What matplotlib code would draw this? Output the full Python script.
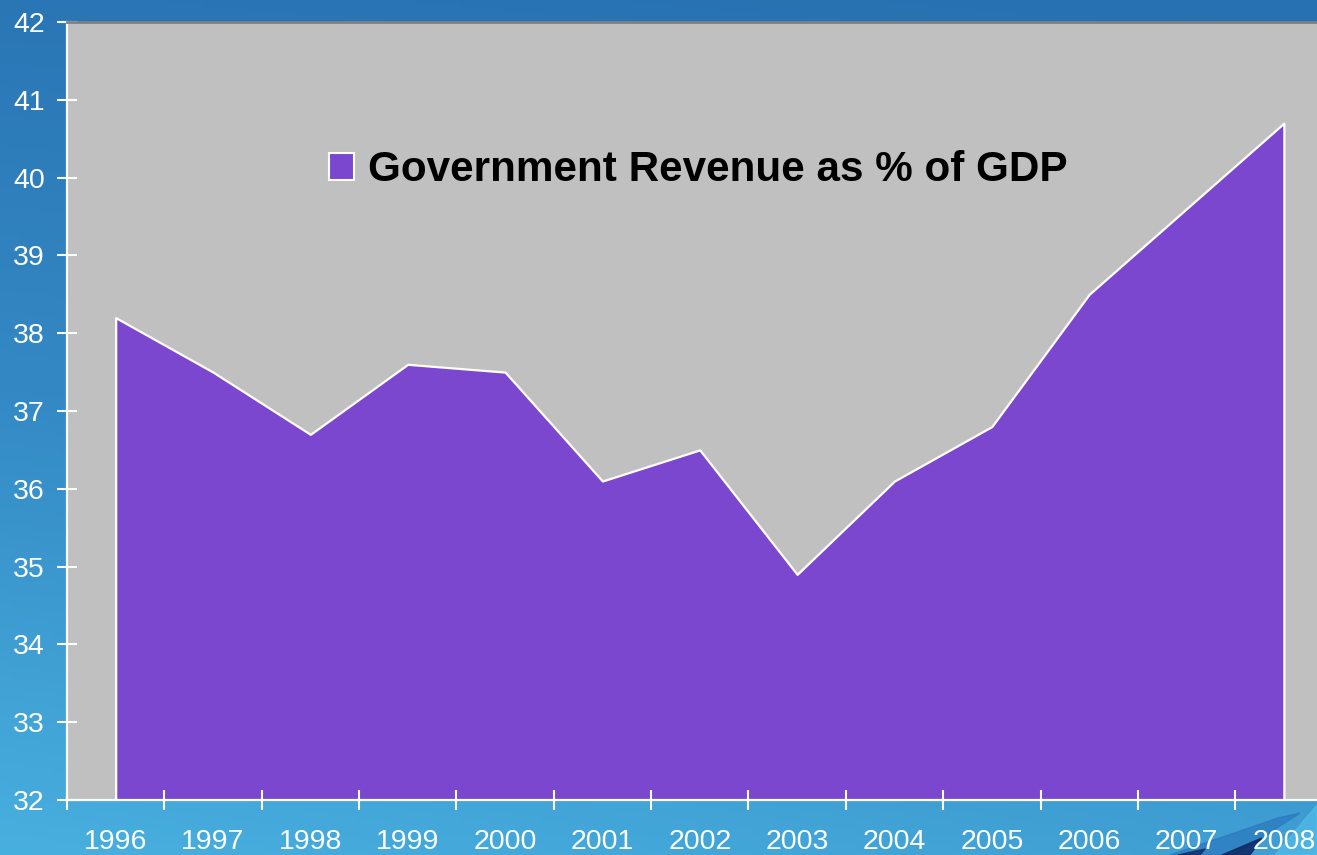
import matplotlib
matplotlib.use("Agg")
import matplotlib.pyplot as plt
import numpy as np
from matplotlib.patches import Patch, Polygon
from matplotlib.colors import LinearSegmentedColormap

years = ["1996", "1997", "1998", "1999", "2000", "2001", "2002",
         "2003", "2004", "2005", "2006", "2007", "2008"]
revenue = [38.2, 37.5, 36.7, 37.6, 37.5, 36.1, 36.5, 34.9, 36.1, 36.8, 38.5, 39.6, 40.7]
series_label = "Government Revenue as % of GDP"
y_ticks = [32, 33, 34, 35, 36, 37, 38, 39, 40, 41, 42]

purple = "#7B47CF"
plot_bg = "#C0C0C0"

plt.rcParams['font.family'] = ['Liberation Sans', 'DejaVu Sans']

W, H = 1317, 855
fig = plt.figure(figsize=(W / 100, H / 100), dpi=100)

# background gradient
bg = fig.add_axes([0, 0, 1, 1], zorder=-10)
bg.set_axis_off()
yy, xx = np.mgrid[0:1:200j, 0:1:200j]
t = 0.75 * yy + 0.2 * (1 - xx) * yy + 0.12 * (1 - xx) * (1 - yy)
cmap = LinearSegmentedColormap.from_list("bgblue", ["#2770B1", "#3489C4", "#4AB4E2"])
bg.imshow(t, cmap=cmap, extent=[0, 1, 0, 1], origin="upper", aspect="auto", vmin=0, vmax=1)
# decorative swoosh bottom-right
bg.add_patch(Polygon([[1170 / W, 0], [1278 / W, 37 / H], [1300 / W, 42 / H], [1235 / W, 0]],
                     closed=True, color="#2A78BE", alpha=0.7))
bg.add_patch(Polygon([[1222 / W, 0], [1262 / W, 17 / H], [1250 / W, 0]],
                     closed=True, color="#0E2C66", alpha=0.9))
bg.add_patch(Polygon([[1178 / W, 0], [1205 / W, 6 / H], [1200 / W, 0]],
                     closed=True, color="#0E2C66", alpha=0.8))
bg.add_patch(Polygon([[1275 / W, 0], [1317 / W, 50 / H], [1317 / W, 0]],
                     closed=True, color="#55C2EE", alpha=0.6))
bg.set_xlim(0, 1)
bg.set_ylim(0, 1)

left = 67 / W
bottom = (H - 800) / H
height = (800 - 22) / H
width = 13 * 97.35 / W
ax = fig.add_axes([left, bottom, width, height])
ax.set_facecolor(plot_bg)

x = np.arange(len(years))
ax.fill_between(x, y_ticks[0], revenue, facecolor=purple, edgecolor="white", linewidth=1.6,
                label=series_label)

ax.set_xlim(-0.5, len(years) - 0.5)
ax.set_ylim(y_ticks[0], y_ticks[-1])
ax.set_yticks(y_ticks)
ax.set_yticklabels([str(v) for v in y_ticks])

ax.set_xticks(np.arange(-0.5, len(years) - 0.4, 1.0))
ax.set_xticklabels([])
ax.set_xticks(x, minor=True)
ax.set_xticklabels(years, minor=True)

ax.tick_params(axis="y", which="major", direction="inout", length=14, width=1.5,
               colors="white", labelsize=20.5, pad=9)
ax.tick_params(axis="x", which="major", direction="inout", length=14, width=1.5, colors="white")
ax.tick_params(axis="x", which="minor", length=0, colors="white", labelsize=20.5, pad=21)

for side in ["left", "bottom"]:
    ax.spines[side].set_color("white")
    ax.spines[side].set_linewidth(1.6)
ax.spines["top"].set_color("#808080")
ax.spines["top"].set_linewidth(2)
ax.spines["right"].set_visible(False)

handle = Patch(facecolor=purple, edgecolor="white", linewidth=1.5)
fig.legend([handle], [series_label], loc="center left",
           bbox_to_anchor=(308 / W, (H - 170) / H), frameon=False, borderpad=0,
           handlelength=0.6, handleheight=0.6, handletextpad=0.33,
           prop={"weight": "bold", "size": 30.4})

fig.savefig("out.png", dpi=100, facecolor=fig.get_facecolor())
